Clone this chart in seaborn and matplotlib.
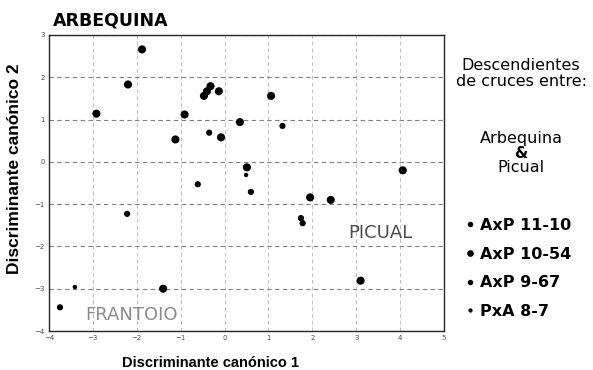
import pandas as pd
import seaborn as sns
import matplotlib.pyplot as plt
from matplotlib.lines import Line2D

# values (discriminant scores per descendant)
axp_11_10_x = [-0.35, 1.32, -0.61, 0.60]
axp_11_10_y = [0.69, 0.85, -0.53, -0.71]

axp_10_54_x = [-1.88, -2.20, -2.92, -0.91, -1.12, -0.47, -0.40, -0.32, -0.13,
               -0.08, 0.35, 1.06, 0.51, 4.06, -1.40, 1.95, 2.42, 3.10]
axp_10_54_y = [2.66, 1.83, 1.14, 1.12, 0.53, 1.56, 1.67, 1.79, 1.67,
               0.58, 0.94, 1.56, -0.13, -0.20, -3.00, -0.84, -0.90, -2.81]

axp_9_67_x = [-2.22, -3.75, 1.74, 1.78]
axp_9_67_y = [-1.23, -3.44, -1.33, -1.45]

pxa_8_7_x = [0.49, -3.41]
pxa_8_7_y = [-0.31, -2.96]

series = ['AxP 11-10', 'AxP 10-54', 'AxP 9-67', 'PxA 8-7']
xs = [axp_11_10_x, axp_10_54_x, axp_9_67_x, pxa_8_7_x]
ys = [axp_11_10_y, axp_10_54_y, axp_9_67_y, pxa_8_7_y]

data = pd.DataFrame({
    'x': sum(xs, []),
    'y': sum(ys, []),
    'cruce': sum([[s] * len(x) for s, x in zip(series, xs)], []),
})

sizes = {'AxP 11-10': 20, 'AxP 10-54': 34, 'AxP 9-67': 20, 'PxA 8-7': 10}

sns.set_style('white')
plt.rcParams['font.family'] = ['DejaVu Sans']
plt.rcParams['text.color'] = 'black'

fig = plt.figure(figsize=(5.93, 3.70), dpi=100)
ax = fig.add_axes([49 / 593, 1 - 331 / 370, 395 / 593, 296 / 370])

sns.scatterplot(data=data, x='x', y='y', hue='cruce', size='cruce', sizes=sizes,
                palette=['black'] * 4, edgecolor='none', legend=False, ax=ax, zorder=3)

ax.set_xlim(-4, 5)
ax.set_ylim(-4, 3)
ax.set_xticks(range(-4, 6))
ax.set_yticks(range(-4, 4))
ax.tick_params(axis='both', labelsize=5, colors='0.3', length=2, direction='in', pad=3)
ax.yaxis.grid(True, ls=(0, (4, 3)), color='0.5', lw=0.8)
ax.xaxis.grid(True, ls=(0, (4, 3)), color='0.75', lw=0.7)
for sp in ax.spines.values():
    sp.set_color('0.15')
    sp.set_linewidth(1.0)

ax.set_xlabel('Discriminante canónico 1', fontsize=10.5, fontweight='bold',
              family='Liberation Sans', color='black')
ax.xaxis.set_label_coords(0.41, -0.085)
ax.set_ylabel('Discriminante canónico 2', fontsize=12.5, fontweight='bold',
              family='Liberation Sans', color='black')
ax.yaxis.set_label_coords(-0.068, 0.547)

ax.text(-3.9, 3.12, 'ARBEQUINA', fontsize=12.5, fontweight='bold', ha='left', va='bottom')
ax.text(3.55, -1.69, 'PICUAL', fontsize=13, color='0.3', ha='center', va='center')
ax.text(-2.12, -3.62, 'FRANTOIO', fontsize=13, color='0.55', ha='center', va='center')

cx = 521 / 593
fig.text(cx, 1 - 65 / 370, 'Descendientes', fontsize=11.5, ha='center', va='center')
fig.text(cx, 1 - 81 / 370, 'de cruces entre:', fontsize=11.5, ha='center', va='center')
fig.text(cx, 1 - 138 / 370, 'Arbequina', fontsize=11.5, ha='center', va='center')
fig.text(cx, 1 - 153 / 370, '&', fontsize=11, ha='center', va='center', fontweight='bold')
fig.text(cx, 1 - 168 / 370, 'Picual', fontsize=11.5, ha='center', va='center')

handles = [Line2D([], [], ls='none', marker='o', color='black',
                  markersize=sizes[s] ** 0.5 * 0.65) for s in series]
fig.legend(handles, series, loc='upper left', bbox_to_anchor=(455 / 593, 1 - 210 / 370),
           frameon=False, prop={'weight': 'bold', 'size': 11.5},
           handletextpad=0.15, handlelength=0.9, labelspacing=0.85, borderpad=0)

plt.savefig('out.png', dpi=100)
